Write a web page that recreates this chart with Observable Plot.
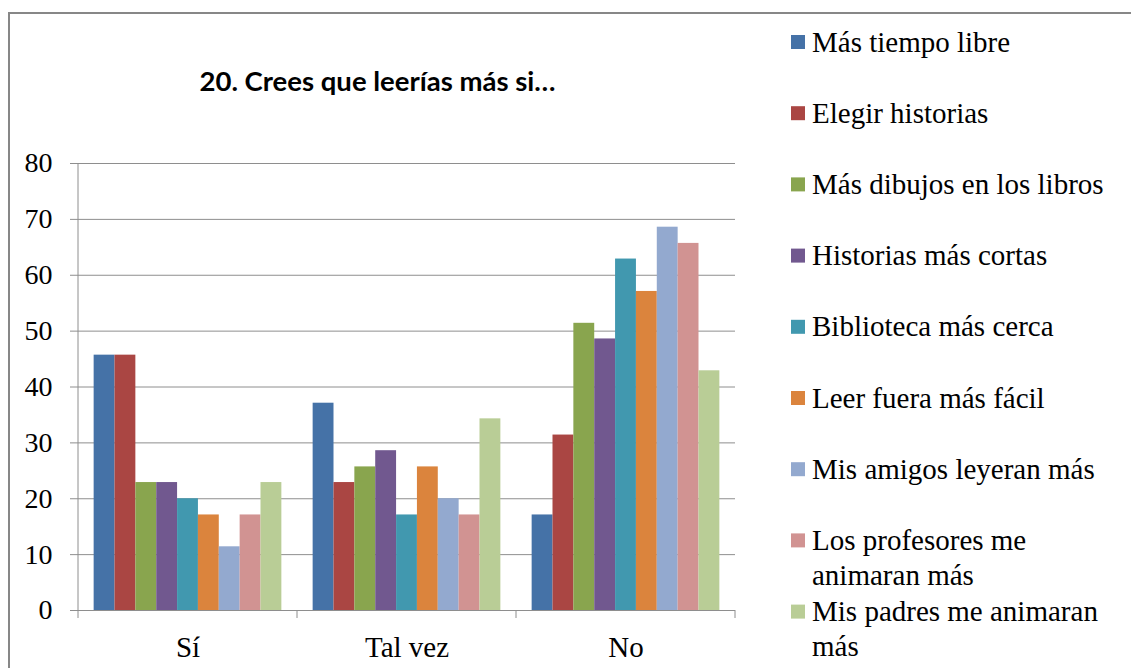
<!DOCTYPE html>
<html>
<head>
<meta charset="utf-8">
<script src="https://cdn.jsdelivr.net/npm/d3@7"></script>
<script src="https://cdn.jsdelivr.net/npm/@observablehq/plot@0.6"></script>
<style>
  html, body { margin: 0; padding: 0; background: #fff; overflow: hidden; width: 1131px; height: 668px; }
  #frame { position: absolute; left: 8px; top: 12px; width: 1300px; height: 900px; border: 2px solid #878787; box-sizing: border-box; }
  #chart { position: absolute; left: 0; top: 0; }
  #title { position: absolute; left: 0; width: 755px; top: 64px; text-align: center; font-family: Lato, "Open Sans", sans-serif; font-weight: bold; font-size: 27.5px; color: #000; }
  #legend { position: absolute; left: 780px; top: 0; }
</style>
</head>
<body>
<div id="frame"></div>
<div id="chart"></div>
<div id="title"></div>
<div id="legend"></div>
<script>
const titleText = "20. Crees que leerías más si…";
const groups = ["Sí", "Tal vez", "No"];
const series = [
  "Más tiempo libre",
  "Elegir historias",
  "Más dibujos en los libros",
  "Historias más cortas",
  "Biblioteca más cerca",
  "Leer fuera más fácil",
  "Mis amigos leyeran más",
  "Los profesores me animaran más",
  "Mis padres me animaran más"
];
const colors = ["#4572A7", "#AA4643", "#89A54E", "#71588F", "#4198AF", "#DB843D", "#93A9CF", "#D19392", "#B9CD96"];
const siValues     = [45.7, 45.7, 22.9, 22.9, 20.0, 17.1, 11.4, 17.1, 22.9];
const talVezValues = [37.1, 22.9, 25.7, 28.6, 17.1, 25.7, 20.0, 17.1, 34.3];
const noValues     = [17.1, 31.4, 51.4, 48.6, 62.9, 57.1, 68.6, 65.7, 42.9];
const yTicks = [0, 10, 20, 30, 40, 50, 60, 70, 80];

const valuesByGroup = [siValues, talVezValues, noValues];
const data = groups.flatMap((g, gi) => series.map((s, si) => ({group: g, series: s, value: valuesByGroup[gi][si]})));

const serif = "'Liberation Serif', 'Times New Roman', serif";
const gridColor = "#8e8e8e";
const chart = Plot.plot({
  width: 760,
  height: 668,
  marginLeft: 78,
  marginRight: 25,
  marginTop: 163,
  marginBottom: 58,
  style: {fontFamily: serif, fontSize: "28px", color: "#000", background: "transparent"},
  fx: {domain: groups, padding: 0, round: false, label: null, axis: null},
  x: {domain: series, axis: null, paddingInner: 0, paddingOuter: 0.75, round: false},
  y: {domain: [0, 80], ticks: yTicks, label: null, tickSize: 8, tickPadding: 18},
  color: {domain: series, range: colors},
  marks: [
    Plot.gridY(yTicks, {stroke: gridColor, strokeOpacity: 1, strokeWidth: 1}),
    Plot.barY(data, {fx: "group", x: "series", y: "value", fill: "series"}),
    Plot.axisY(yTicks, {tickSize: 8, tickPadding: 18, stroke: gridColor, strokeOpacity: 1, fill: "#000", label: null}),
    Plot.axisFx({anchor: "bottom", tickSize: 0, tickPadding: 26, fontSize: 29, fill: "#000", label: null})
  ]
});
document.getElementById("chart").appendChild(chart);

// axis line and group separator ticks using Plot's scales
const fx = chart.scale("fx");
const ys = chart.scale("y");
const svg = d3.select(chart);
const g = svg.append("g").attr("stroke", gridColor).attr("stroke-width", 1);
const x0 = fx.apply(groups[0]);
const y0 = ys.apply(0), yTop = ys.apply(80);
g.append("line").attr("x1", x0).attr("x2", x0).attr("y1", yTop).attr("y2", y0 + 8);
groups.forEach(gr => {
  const xr = fx.apply(gr) + fx.bandwidth;
  g.append("line").attr("x1", xr).attr("x2", xr).attr("y1", y0).attr("y2", y0 + 8);
});

document.getElementById("title").textContent = titleText;

// legend as SVG (serif text, wrapped to width)
const lsvg = d3.select("#legend").append("svg")
  .attr("width", 351).attr("height", 668)
  .style("font-family", serif).style("font-size", "29px");
const rowH = 71.2, firstY = 42, lineH = 35, maxW = 305;
series.forEach((s, i) => {
  const cy = firstY + i * rowH;
  lsvg.append("rect").attr("x", 11).attr("y", cy - 7).attr("width", 14).attr("height", 14).attr("fill", colors[i]);
  const t = lsvg.append("text").attr("fill", "#000");
  const words = s.split(" ");
  let line = [], lineNo = 0;
  let ts = t.append("tspan").attr("x", 32).attr("y", cy).attr("dy", "0.33em");
  words.forEach(w => {
    line.push(w);
    ts.text(line.join(" "));
    if (ts.node().getComputedTextLength() > maxW && line.length > 1) {
      line.pop();
      ts.text(line.join(" "));
      line = [w];
      lineNo++;
      ts = t.append("tspan").attr("x", 32).attr("y", cy + lineNo * lineH).attr("dy", "0.33em").text(w);
    }
  });
});
</script>
</body>
</html>
